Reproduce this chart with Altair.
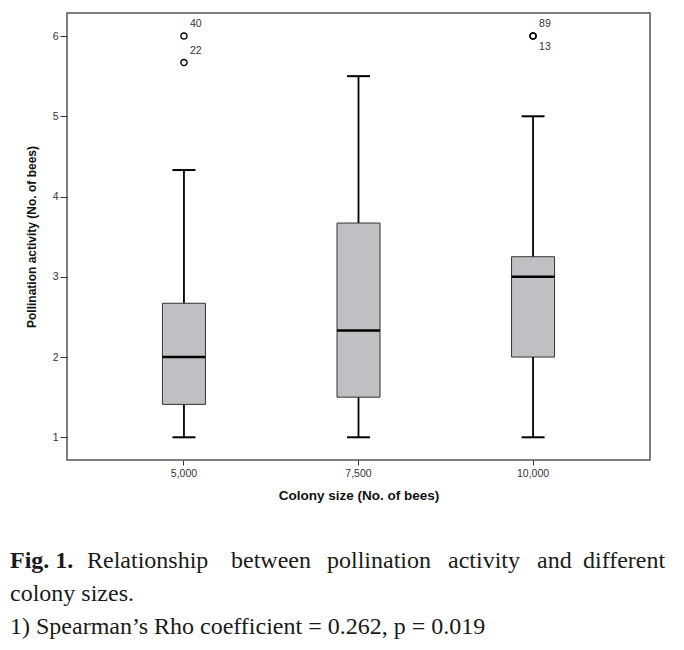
import altair as alt
import pandas as pd

categories = ["5,000", "7,500", "10,000"]
whisker_low = [1.0, 1.0, 1.0]
q1 = [1.41, 1.5, 2.0]
median = [2.0, 2.33, 3.0]
q3 = [2.67, 3.67, 3.25]
whisker_high = [4.33, 5.5, 5.0]

outlier_cat = ["5,000", "5,000", "10,000", "10,000"]
outlier_val = [6.0, 5.67, 6.0, 6.0]
outlier_id = ["40", "22", "89", "13"]
outlier_label_below = [False, False, False, True]

caption_line1_words = ["Relationship", "between", "pollination", "activity",
                       "and", "different"]
caption_line1_x = [87, 231, 327, 448, 537, 583]   # justified word starts (px)
caption_bold = "Fig. 1."
caption_line2 = "colony sizes."
caption_line3 = "1) Spearman\u2019s Rho coefficient = 0.262, p = 0.019"

y_ticks = [1, 2, 3, 4, 5, 6]

W, H = 583, 447
LEFT, TOP = 67, 13

box_df = pd.DataFrame({
    "cat": categories, "lo": whisker_low, "q1": q1, "med": median,
    "q3": q3, "hi": whisker_high,
})
out_df = pd.DataFrame({
    "cat": outlier_cat, "val": outlier_val, "id": outlier_id,
    "below": outlier_label_below,
})

xs = alt.Scale(domain=categories, paddingInner=0, paddingOuter=0.17)
ys = alt.Scale(domain=[0.717, 6.287], nice=False, zero=False)

x_enc = alt.X("cat:N", scale=xs, sort=categories,
              axis=alt.Axis(title="Colony size (No. of bees)", labelAngle=0,
                            domain=False, tickSize=5, tickColor="#333",
                            labelFont="Liberation Sans", labelFontSize=10.5,
                            labelColor="#333", labelPadding=3,
                            titleFont="Liberation Sans", titleFontSize=13.5,
                            titleFontWeight="bold", titleColor="#111",
                            titlePadding=10))
y_axis = alt.Axis(title="Pollination activity (No. of bees)", values=y_ticks,
                  format="d", grid=False, domain=False, tickSize=7,
                  tickColor="#333", labelFont="Liberation Sans",
                  labelFontSize=10.5, labelColor="#333", labelPadding=2,
                  titleFont="Liberation Sans", titleFontSize=12,
                  titleFontWeight="bold", titleColor="#111", titlePadding=14)

xc = alt.X("cat:N", scale=xs, sort=categories)
base = alt.Chart(box_df)

whisker = base.mark_rule(color="black", strokeWidth=1.8, opacity=1).encode(
    x=x_enc, y=alt.Y("lo:Q", scale=ys, axis=y_axis), y2="hi:Q")
box = base.mark_bar(size=43, color="#C0C0C4", stroke="#333",
                    strokeWidth=1, opacity=1).encode(
    x=xc, y=alt.Y("q1:Q", scale=ys), y2="q3:Q")
med = base.mark_tick(size=43, thickness=2.5, color="black", opacity=1).encode(
    x=xc, y=alt.Y("med:Q", scale=ys))
cap_lo = base.mark_tick(size=23, thickness=2, color="black", opacity=1).encode(
    x=xc, y=alt.Y("lo:Q", scale=ys))
cap_hi = base.mark_tick(size=23, thickness=2, color="black", opacity=1).encode(
    x=xc, y=alt.Y("hi:Q", scale=ys))

outs = alt.Chart(out_df).mark_point(shape="circle", filled=False, size=38,
                                    color="black", strokeWidth=1.4,
                                    opacity=1).encode(
    x=xc, y=alt.Y("val:Q", scale=ys))
lab_above = alt.Chart(out_df).transform_filter("!datum.below").mark_text(
    align="left", dx=6, dy=-12, fontSize=10.5, font="Liberation Sans",
    color="#333").encode(x=xc, y=alt.Y("val:Q", scale=ys), text="id:N")
lab_below = alt.Chart(out_df).transform_filter("datum.below").mark_text(
    align="left", dx=6, dy=11, fontSize=10.5, font="Liberation Sans",
    color="#333").encode(x=xc, y=alt.Y("val:Q", scale=ys), text="id:N")

cap_font = "Liberation Serif"
cap_size = 24
cap_color = "#1a1a1a"


def caption_text(text, x, y, bold=False):
    return alt.Chart(pd.DataFrame({"t": [text]})).mark_text(
        align="left", baseline="alphabetic", font=cap_font, fontSize=cap_size,
        fontWeight="bold" if bold else "normal", color=cap_color).encode(
        x=alt.value(x - LEFT), y=alt.value(y - TOP), text="t:N")


caps = [caption_text(caption_bold, 10, 568, bold=True)]
for w, xw in zip(caption_line1_words, caption_line1_x):
    caps.append(caption_text(w, xw, 568))
caps.append(caption_text(caption_line2, 10, 601))
caps.append(caption_text(caption_line3, 10, 634))

chart = alt.layer(whisker, box, med, cap_lo, cap_hi, outs, lab_above,
                  lab_below, *caps).properties(
    width=W, height=H,
    autosize=alt.AutoSizeParams(type="none"),
    padding={"left": LEFT - 8, "top": TOP - 8, "right": 26, "bottom": 182},
).configure(background="white").configure_view(stroke="#555",
                                                 strokeWidth=1.5)

chart.save("out.html", embed_options={"renderer": "svg", "actions": False})
